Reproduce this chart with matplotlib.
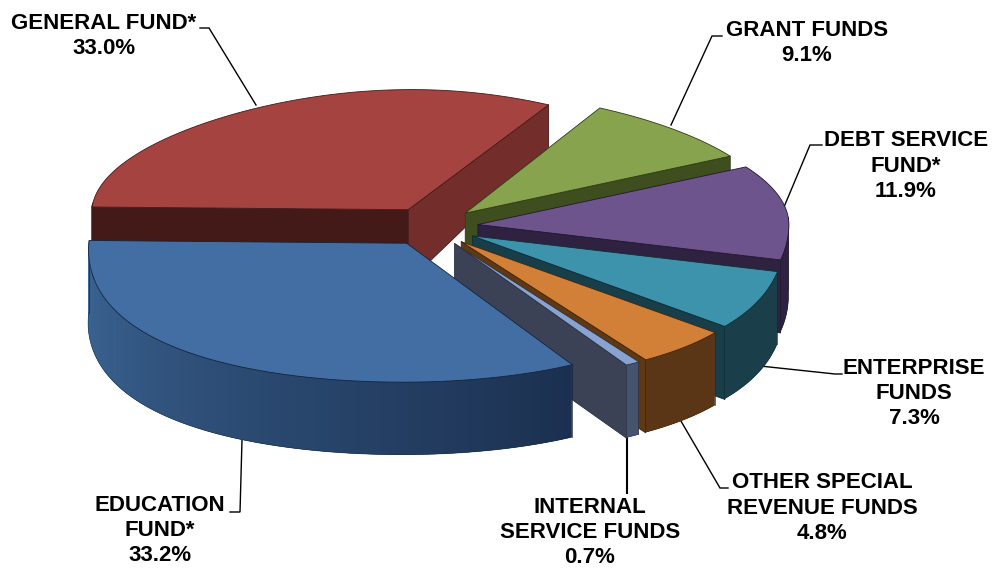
import numpy as np
import matplotlib
matplotlib.use("Agg")
import matplotlib.pyplot as plt
from matplotlib.collections import PolyCollection
from matplotlib.colors import to_rgb

plt.rcParams['font.family'] = ['Liberation Sans', 'DejaVu Sans']

# Share of the total by fund, clockwise from the general/grant boundary
funds = ["GRANT FUNDS", "DEBT SERVICE\nFUND*", "ENTERPRISE\nFUNDS",
         "OTHER SPECIAL\nREVENUE FUNDS", "INTERNAL\nSERVICE FUNDS",
         "EDUCATION\nFUND*", "GENERAL FUND*"]
shares = [9.1, 11.9, 7.3, 4.8, 0.7, 33.2, 33.0]

top_colors = ["#88A34D", "#6E548D", "#3E93AC", "#D27F37", "#88A3D2", "#426EA3", "#A54341"]
cut_colors = ["#3F4E1E", "#2E2240", "#173E49", "#5E3913", "#3B4256", "#1B3050", "#732D2B"]
rim_start = ["#3F4E1E", "#2E2240", "#1A3F4A", "#5A3516", "#46536F", "#1B3050", "#431A18"]
rim_end = ["#3F4E1E", "#2E2240", "#1A3F4A", "#5A3516", "#46536F", "#3F6B9C", "#431A18"]
edge_colors = ["#2F3A16", "#211830", "#102D36", "#3F260C", "#2A3040", "#14243C", "#431A18"]

# Projection of the tilted disc onto the canvas
CX, CY = 431.0, 226.0
RX_LEFT, RX_RIGHT, RY = 317.0, 311.0, 130.0
EXPLODE = 0.15
START_ANGLE = 60.0


def project(u, v):
    sx = np.where(v > 0, 1 - 0.118 * v ** 2, 1 + 0.14 * v ** 2)
    sy = np.sqrt(1.0 / (1.0 + np.where(v > 0, 0.135, 0.10) * v))
    rx = np.where(u < 0, RX_LEFT, RX_RIGHT)
    return CX + rx * u * sx, CY - RY * v * sy


def thickness(v):
    return 73.0 - 31.0 * np.clip(v, 0.0, 1.0) ** 2


def top_point(apex, angle):
    return apex[0] + np.cos(angle), apex[1] + np.sin(angle)


def cut_wall(apex, angle):
    # straight-sided face running from the slice apex out to the rim
    ue, ve = top_point(apex, angle)
    x0, y0 = project(np.array(apex[0]), np.array(apex[1]))
    x1, y1 = project(np.array(ue), np.array(ve))
    d0, d1 = thickness(apex[1]), thickness(ve)
    return np.array([[x0, y0], [x1, y1], [x1, y1 + d1], [x0, y0 + d0]])


fig = plt.figure(figsize=(9.92, 5.68), dpi=100)
ax = fig.add_axes([0, 0, 1, 1])
ax.set_xlim(0, 992)
ax.set_ylim(568, 0)
ax.axis("off")

angle = np.deg2rad(START_ANGLE)
for i, share in enumerate(shares):
    sweep = np.deg2rad(share * 3.6)
    a0, a1 = angle, angle - sweep   # a0 is the counter-clockwise side
    angle = a1
    mid = (a0 + a1) / 2
    apex = (EXPLODE * np.cos(mid), EXPLODE * np.sin(mid))
    lw = 0.6
    z = 2 + (i + 1) % len(shares)   # the general fund sits furthest back

    # flat cut faces: the clockwise side, except on the education slice where it is hidden,
    # plus the counter-clockwise side of the general fund
    if not funds[i].startswith("EDUCATION"):
        ax.add_collection(PolyCollection([cut_wall(apex, a1)], facecolors=cut_colors[i],
                                         edgecolors=edge_colors[i], linewidths=lw, zorder=z))
    if funds[i].startswith("GENERAL"):
        ax.add_collection(PolyCollection([cut_wall(apex, a0)], facecolors=rim_start[i],
                                         edgecolors=edge_colors[i], linewidths=lw, zorder=z))

    # curved rim: a solid base, then overlapping narrow strips carrying the gradient
    angs = np.linspace(a0, a1, max(12, int(np.degrees(sweep) * 3)))
    angs = angs[np.sin(angs) < 0.06]
    if len(angs) > 1:
        us, vs = top_point(apex, angs)
        xs, ys = project(us, vs)
        lower = ys + thickness(vs)
        c0, c1 = np.array(to_rgb(rim_start[i])), np.array(to_rgb(rim_end[i]))
        base = np.c_[np.r_[xs, xs[::-1]], np.r_[ys, lower[::-1]]]
        ax.add_collection(PolyCollection([base], facecolors=[(c0 + c1) / 2], linewidths=0, zorder=z))
        strips, colors = [], []
        for k in range(len(angs) - 1):
            j = min(k + 2, len(angs) - 1)
            strips.append(np.c_[np.r_[xs[k:j + 1], xs[k:j + 1][::-1]],
                                np.r_[ys[k:j + 1], lower[k:j + 1][::-1]]])
            colors.append(c0 + (c1 - c0) * k / max(1, len(angs) - 2))
        ax.add_collection(PolyCollection(strips, facecolors=colors, linewidths=0, zorder=z))
        ax.plot(xs, lower, color=edge_colors[i], lw=0.5, alpha=0.6, zorder=z)
        ax.plot([xs[0], xs[0]], [ys[0], lower[0]], color=edge_colors[i], lw=0.5, zorder=z)
        ax.plot([xs[-1], xs[-1]], [ys[-1], lower[-1]], color=edge_colors[i], lw=0.5, zorder=z)

    # top face
    arc = np.linspace(a0, a1, max(6, int(np.degrees(sweep) * 2)))
    us, vs = top_point(apex, arc)
    xs, ys = project(np.r_[apex[0], us], np.r_[apex[1], vs])
    ax.add_collection(PolyCollection([np.c_[xs, ys]], facecolors=top_colors[i],
                                     edgecolors=edge_colors[i], linewidths=lw, zorder=z + 0.5))

# Callouts: label text, text anchor, leader polyline and leader weight
labels = [
    ("GENERAL FUND*\n33.0%", 104, 36, [(256, 105), (209, 28), (200, 28)], 1.0),
    ("GRANT FUNDS\n9.1%", 807, 43, [(671, 125), (712, 36), (722, 36)], 1.0),
    ("DEBT SERVICE\nFUND*\n11.9%", 906, 166, [(784, 207), (810, 145), (822, 145)], 1.0),
    ("ENTERPRISE\nFUNDS\n7.3%", 914, 393.5, [(760, 366), (835, 374), (842, 374)], 1.0),
    ("OTHER SPECIAL\nREVENUE FUNDS\n4.8%", 822, 508, [(678, 416), (720, 488), (728, 488)], 1.0),
    ("INTERNAL\nSERVICE FUNDS\n0.7%", 590, 532.5, [(627, 435), (627, 493)], 1.5),
    ("EDUCATION\nFUND*\n33.2%", 160, 530.5, [(242, 440), (240, 512), (230, 512)], 1.0),
]
for text, x, y, line, weight in labels:
    ax.text(x, y, text, ha="center", va="center", fontsize=16, fontweight="bold",
            color="black", linespacing=1.26, zorder=20)
    px, py = zip(*line)
    ax.plot(px, py, color="black", lw=weight, zorder=1, solid_joinstyle="miter")

fig.savefig("out.png", dpi=100, facecolor="white")
